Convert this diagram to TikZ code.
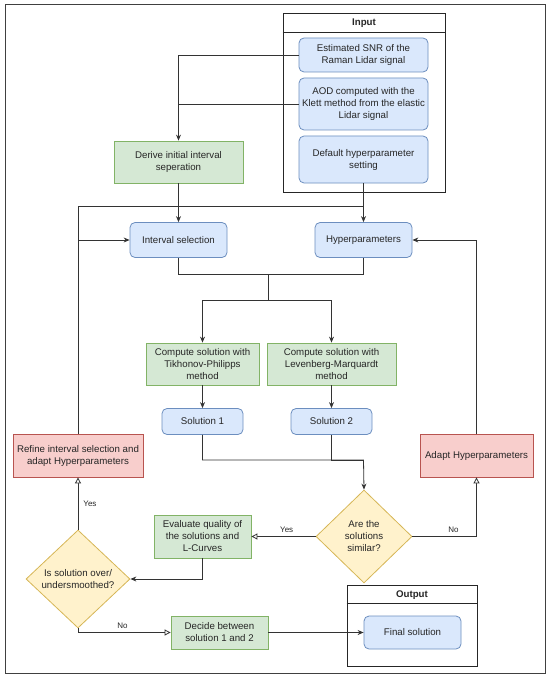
\documentclass[tikz,border=0pt]{standalone}
\usepackage{fontspec}
\setmainfont{Liberation Sans}
\usetikzlibrary{shapes.geometric,arrows.meta}

\definecolor{blfill}{HTML}{DAE8FC}
\definecolor{bldraw}{HTML}{6C8EBF}
\definecolor{grfill}{HTML}{D5E8D4}
\definecolor{grdraw}{HTML}{82B366}
\definecolor{rdfill}{HTML}{F8CECC}
\definecolor{rddraw}{HTML}{B85450}
\definecolor{ylfill}{HTML}{FFF2CC}
\definecolor{yldraw}{HTML}{D6B656}
\definecolor{lncol}{HTML}{333333}

\begin{document}
\begin{tikzpicture}[x=1pt,y=-1pt,
		every node/.style={inner sep=0pt, align=center, text=black!85, font=\fontsize{9.7}{12}\selectfont},
		bluebox/.style={draw=bldraw, fill=blfill, line width=0.8pt, rounded corners=5pt},
		greenbox/.style={draw=grdraw, fill=grfill, line width=0.8pt},
		redbox/.style={draw=rddraw, fill=rdfill, line width=0.8pt},
		decision/.style={diamond, aspect=1, draw=yldraw, fill=ylfill, line width=0.8pt},
		contbox/.style={draw=black!85, fill=white, line width=0.8pt},
		conn/.style={draw=lncol, line width=0.8pt},
		arr/.style={conn, -{Stealth[length=6pt,width=5pt]}},
		oarr/.style={conn, -{Triangle[open,length=6pt,width=6pt,fill=white]}},
		lbl/.style={font=\fontsize{8}{9}\selectfont}]
		\useasboundingbox (0,0) rectangle (550,679);
		\draw [black!75, line width=1pt] (5,5) rectangle (545,673);
		% input group
		\node [contbox, minimum width=162pt, minimum height=179pt] (inbox) at (364,102.5) {};
		\draw [black!85, line width=0.8pt] ([yshift=-20pt]inbox.north west) -- ([yshift=-20pt]inbox.north east);
		\node [font=\fontsize{9.7}{12}\selectfont\bfseries] (inhead) at (364,23) {Input};
		\node [bluebox, minimum width=129pt, minimum height=34pt] (snr) at (363.5,55) {Estimated SNR of the\\Raman Lidar signal};
		\node [bluebox, minimum width=129pt, minimum height=52pt] (aod) at (363.5,104) {AOD computed with the\\Klett method from the elastic\\Lidar signal};
		\node [bluebox, minimum width=129pt, minimum height=47pt] (deflt) at (363.5,159.5) {Default hyperparameter\\setting};
		% main flow
		\node [greenbox, minimum width=129pt, minimum height=42pt] (derive) at (178.5,162) {Derive initial interval\\seperation};
		\node [bluebox, minimum width=97pt, minimum height=35pt] (intsel) at (178.5,240) {Interval selection};
		\node [bluebox, minimum width=97pt, minimum height=35pt] (hyper) at (363.5,240) {Hyperparameters};
		\node [greenbox, minimum width=113pt, minimum height=42pt] (tp) at (202.5,364) {Compute solution with\\Tikhonov-Philipps\\method};
		\node [greenbox, minimum width=129pt, minimum height=42pt] (lm) at (331.5,364) {Compute solution with\\Levenberg-Marquardt\\method};
		\node [bluebox, minimum width=81pt, minimum height=26pt] (sol1) at (202.5,421.5) {Solution 1};
		\node [bluebox, minimum width=81pt, minimum height=26pt] (sol2) at (331.5,421.5) {Solution 2};
		\node [redbox, minimum width=130pt, minimum height=43pt] (refine) at (78,455.5) {Refine interval selection and\\adapt Hyperparameters};
		\node [redbox, minimum width=113pt, minimum height=43pt] (adapt) at (476.5,455.5) {Adapt Hyperparameters};
		\node [decision, minimum width=96pt, minimum height=93pt] (similar) at (364,536.5) {Are the\\solutions\\similar?};
		\node [greenbox, minimum width=97pt, minimum height=43pt] (evaluate) at (202.5,536.5) {Evaluate quality of\\the solutions and\\L-Curves};
		\node [decision, minimum width=104pt, minimum height=98pt] (smooth) at (78,579) {Is solution over/\\undersmoothed?};
		\node [greenbox, minimum width=97pt, minimum height=33pt] (decide) at (219.5,632.5) {Decide between\\solution 1 and 2};
		% output group
		\node [contbox, minimum width=130pt, minimum height=81pt] (outbox) at (412,625.5) {};
		\draw [black!85, line width=0.8pt] ([yshift=-19pt]outbox.north west) -- ([yshift=-19pt]outbox.north east);
		\node [font=\fontsize{9.7}{12}\selectfont\bfseries] (outhead) at (412,595) {Output};
		\node [bluebox, minimum width=97pt, minimum height=33pt] (final) at (412.5,632.5) {Final solution};
		% connectors
		\coordinate (fbtop) at (363.5,206);
		\coordinate (merge) at (268,274);
		\coordinate (split) at (268,300);
		\coordinate (join) at (363.5,460);
		\draw [arr] (snr.west) -| (derive.north);
		\draw [conn] (aod.west) -- (aod.west -| derive.north);
		\draw [arr] (derive.south) -- (intsel.north);
		\draw [arr] (deflt.south) -- (hyper.north);
		\draw [conn] (refine.north) |- (fbtop);
		\draw [arr] (refine.north |- intsel.west) -- (intsel.west);
		\draw [conn] (intsel.south) |- (merge);
		\draw [conn] (hyper.south) |- (merge);
		\draw [arr] (merge) -- (split) -| (tp.north);
		\draw [arr] (split) -| (lm.north);
		\draw [arr] (tp.south) -- (sol1.north);
		\draw [arr] (lm.south) -- (sol2.north);
		\draw [arr] (sol1.south) |- (join) -- (similar.north);
		\draw [conn] (sol2.south) |- (join);
		\draw [oarr] (similar.west) -- node [lbl, above=4pt, pos=0.45] (yes1) {Yes} (evaluate.east);
		\draw [oarr] (similar.east) -| node [lbl, above=4pt, pos=0.32] (no1) {No} (adapt.south);
		\draw [arr] (adapt.north) |- (hyper.east);
		\draw [arr] (evaluate.south) |- (smooth.east);
		\draw [oarr] (smooth.north) -- node [lbl, right=5pt] (yes2) {Yes} (refine.south);
		\draw [oarr] (smooth.south) |- node [lbl, above=4pt, pos=0.74] (no2) {No} (decide.west);
		\draw [arr] (decide.east) -- (final.west);
	\end{tikzpicture}
\end{document}
